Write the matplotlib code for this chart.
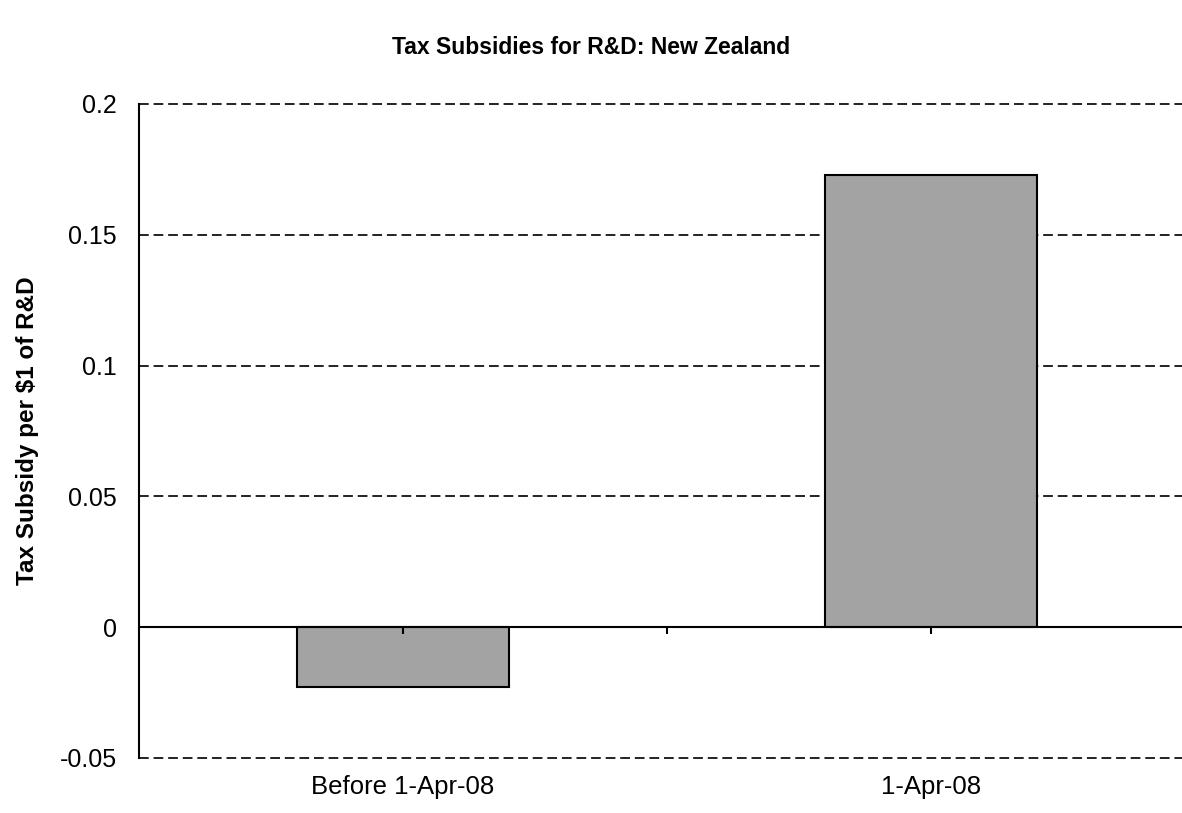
import numpy as np
import matplotlib
matplotlib.use("Agg")
import matplotlib.pyplot as plt

plt.rcParams['font.family'] = ['Liberation Sans', 'DejaVu Sans']
plt.rcParams['lines.scale_dashes'] = False

# data
categories = ["Before 1-Apr-08", "1-Apr-08"]
subsidy = [-0.023, 0.173]
y_ticks = [-0.05, 0, 0.05, 0.1, 0.15, 0.2]
y_tick_labels = ["-0.05", "0", "0.05", "0.1", "0.15", "0.2"]

title = "Tax Subsidies for R&D: New Zealand"
ylabel = "Tax Subsidy per $1 of R&D"

fig = plt.figure(figsize=(11.82, 8.13), dpi=100)
ax = fig.add_axes([0.1176, 0.0677, 0.8934, 0.8044])

x = np.arange(len(categories))
ax.bar(x, subsidy, width=0.4, color="#a3a3a3", edgecolor="black", linewidth=1.5, zorder=2)

ax.set_xlim(-0.5, len(categories) - 0.5)
ax.set_ylim(y_ticks[0], y_ticks[-1])

ax.set_yticks(y_ticks)
ax.set_yticklabels(y_tick_labels)
ax.set_xticks(x)
ax.set_xticklabels(categories)
ax.tick_params(axis="y", length=0, pad=16, labelsize=18)
ax.tick_params(axis="x", length=0, pad=12, labelsize=18.5)

# dashed horizontal gridlines
ax.yaxis.grid(True, linestyle=(0, (7, 3.5)), color="#222222", linewidth=1.4, zorder=0)
ax.set_axisbelow(True)
for gl in ax.get_ygridlines():
    gl.set_clip_on(False)

for side in ["top", "right", "bottom"]:
    ax.spines[side].set_visible(False)
ax.spines["left"].set_linewidth(1.5)

# category axis drawn through zero, ticks between/at categories
zero_frac = (0 - y_ticks[0]) / (y_ticks[-1] - y_ticks[0])
sec = ax.secondary_xaxis(zero_frac)
sec.set_zorder(5)
sec.set_xticks([0, 0.5, 1])
sec.set_xticklabels([])
sec.tick_params(direction="out", length=5, width=1.5)
sec.spines["bottom"].set_linewidth(1.5)

ax.set_ylabel(ylabel, fontsize=17.5, fontweight="bold", labelpad=15)
fig.text(0.5, 1 - 48 / 813, title, ha="center", va="center", fontsize=16.5, fontweight="bold")

fig.savefig("out.png", dpi=100)
